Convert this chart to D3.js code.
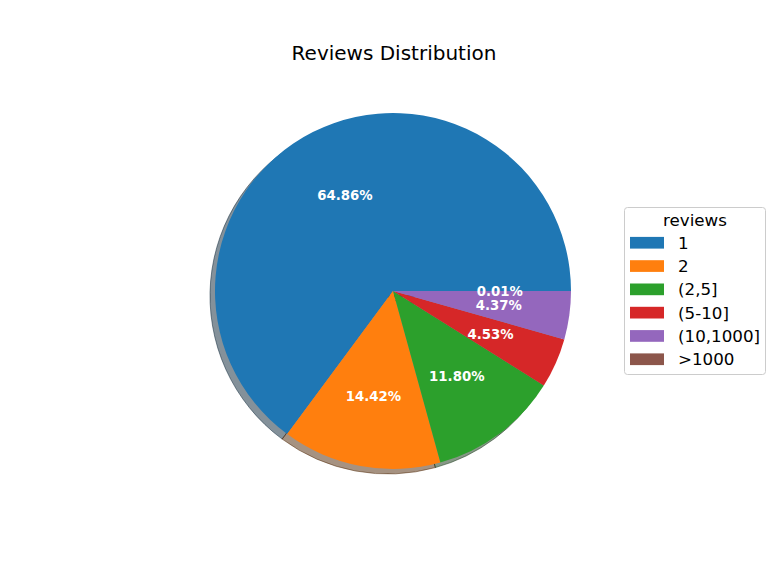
<!DOCTYPE html>
<html><head><meta charset="utf-8">
<script src="https://cdn.jsdelivr.net/npm/d3@7"></script>
<style>body{margin:0;background:#fff}svg{display:block}text{font-family:"DejaVu Sans",sans-serif}</style>
</head><body>
<svg id="c" width="768" height="576"></svg>
<script>
const categories = ["1", "2", "(2,5]", "(5-10]", "(10,1000]", ">1000"];
const percents = [64.86, 14.42, 11.80, 4.53, 4.37, 0.01];
const colors = ["#1f77b4", "#ff7f0e", "#2ca02c", "#d62728", "#9467bd", "#8c564b"];
const title = "Reviews Distribution";
const legendTitle = "reviews";

const svg = d3.select("#c");
const cx = 393, cy = 291, R = 178;

svg.append("text").attr("x", 394).attr("y", 60).attr("text-anchor", "middle")
  .attr("font-size", 20).attr("fill", "#000").text(title);

const pie = d3.pie().sort(null).value(d => d)
  .startAngle(Math.PI / 2).endAngle(Math.PI / 2 - 2 * Math.PI);
const arcs = pie(percents);
const arc = d3.arc().innerRadius(0).outerRadius(R);

function shadowColor(c) {
  const r = d3.rgb(c);
  return d3.rgb(r.r * 0.3, r.g * 0.3, r.b * 0.3);
}

// shadows
const sg = svg.append("g").attr("transform", `translate(${cx - 5},${cy + 5})`);
sg.selectAll("path").data(arcs).enter().append("path")
  .attr("d", arc)
  .attr("fill", (d, i) => shadowColor(colors[i]))
  .attr("fill-opacity", 0.5)
  .attr("stroke", (d, i) => shadowColor(colors[i]))
  .attr("stroke-opacity", 0.5)
  .attr("stroke-width", 1);

// wedges
const g = svg.append("g").attr("transform", `translate(${cx},${cy})`);
g.selectAll("path").data(arcs).enter().append("path")
  .attr("d", arc)
  .attr("fill", (d, i) => colors[i]);

// percentage labels
const lr = R * 0.6;
g.selectAll("text.pct").data(arcs).enter().append("text")
  .attr("class", "pct")
  .attr("x", d => lr * Math.sin((d.startAngle + d.endAngle) / 2))
  .attr("y", d => -lr * Math.cos((d.startAngle + d.endAngle) / 2))
  .attr("text-anchor", "middle").attr("dominant-baseline", "central")
  .attr("font-size", 13.3).attr("font-weight", "bold").attr("fill", "#fff")
  .text(d => d.data.toFixed(2) + "%");

// legend
const lg = svg.append("g");
lg.append("rect").attr("x", 624.5).attr("y", 207.5).attr("width", 141).attr("height", 167)
  .attr("rx", 3).attr("fill", "#fff").attr("fill-opacity", 0.8)
  .attr("stroke", "#cccccc").attr("stroke-width", 1);
lg.append("text").attr("x", 695).attr("y", 225.5).attr("text-anchor", "middle")
  .attr("font-size", 16.7).attr("fill", "#000").text(legendTitle);
const rowY = d3.scaleLinear().domain([0, 1]).range([242.7, 266]);
categories.forEach((c, i) => {
  const y = rowY(i);
  lg.append("rect").attr("x", 630).attr("y", y - 5.8).attr("width", 34).attr("height", 11.7)
    .attr("fill", colors[i]);
  lg.append("text").attr("x", 678).attr("y", y).attr("dominant-baseline", "central")
    .attr("font-size", 16.7).attr("fill", "#000").text(c);
});
</script>
</body></html>
